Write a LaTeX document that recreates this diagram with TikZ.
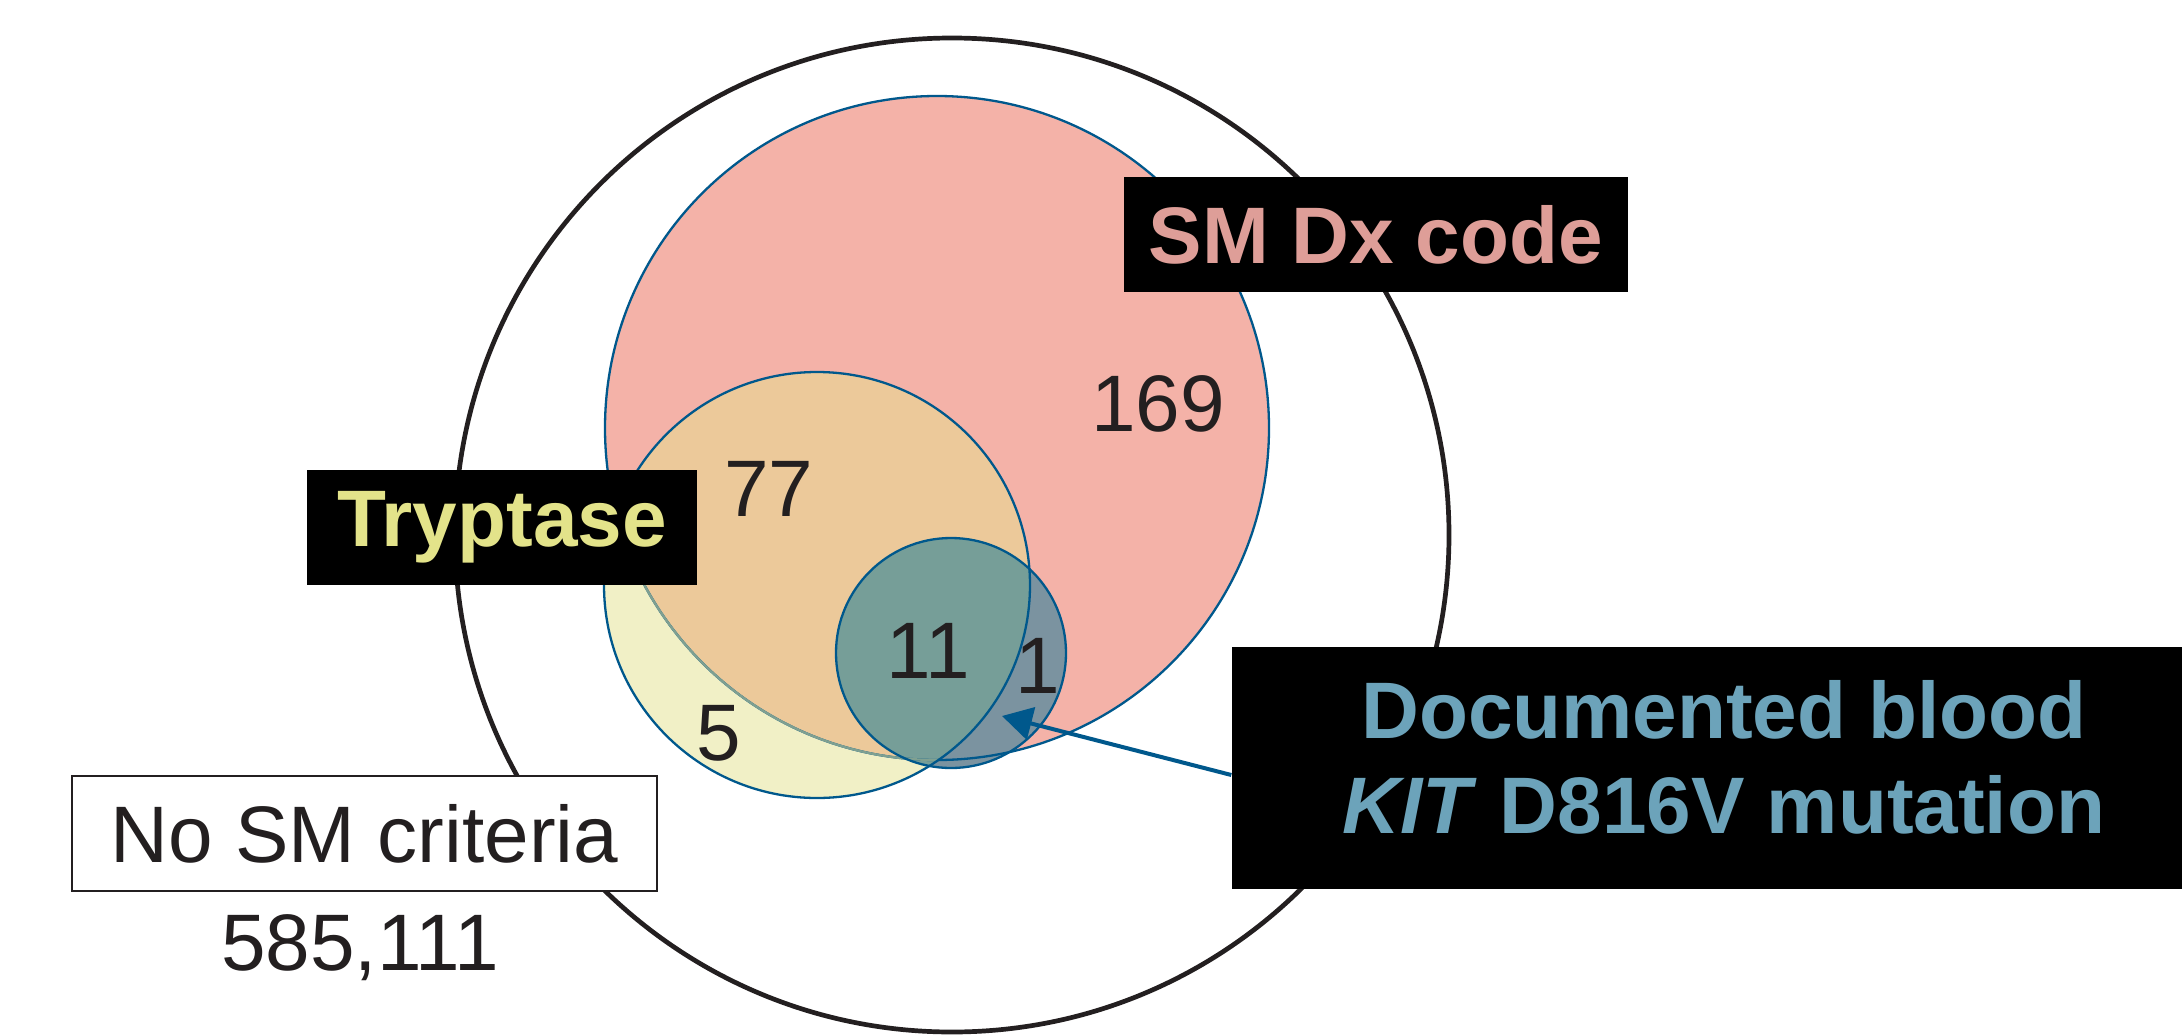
\documentclass[tikz,border=0pt]{standalone}
\usepackage{fontspec}
\setmainfont{Liberation Sans}
\usetikzlibrary{arrows.meta}

\begin{document}
\begin{tikzpicture}[x=0.1mm, y=-0.1mm]
% Colors
\definecolor{outlineColor}{RGB}{35,31,32}
\definecolor{rimColor}{RGB}{0,88,140}
\definecolor{innerRimColor}{RGB}{127,160,145}
\definecolor{dxColor}{RGB}{244,178,168}
\definecolor{tryptaseColor}{RGB}{241,240,198}
\definecolor{bothColor}{RGB}{236,201,154}
\definecolor{kitColor}{RGB}{123,147,160}
\definecolor{kitBothColor}{RGB}{118,158,152}
\definecolor{dxTextColor}{RGB}{222,158,152}
\definecolor{tryptaseTextColor}{RGB}{227,227,138}
\definecolor{kitTextColor}{RGB}{108,163,186}
\tikzset{
	count/.style={text=outlineColor, font=\fontsize{22.8}{27}\selectfont},
	labeltext/.style={font=\fontsize{22.8}{27}\selectfont\bfseries},
	labelbox/.style={labeltext, fill=black, inner sep=0pt, minimum height=11.5mm},
	rim/.style={draw=rimColor, line width=0.23mm},
}
\path[use as bounding box] (0,0) rectangle (2182,1035);
% Centres of the sets
\coordinate (all) at (952,535);
\coordinate (dx) at (937,428);
\coordinate (tryptase) at (817,585);
\coordinate (kit) at (951,653);
% Outer set
\draw[outlineColor, line width=0.47mm] (all) circle[radius=497];
% Fills
\fill[dxColor] (dx) circle[radius=332];
\begin{scope}
	\clip (tryptase) circle[radius=213];
	\fill[tryptaseColor] (tryptase) circle[radius=213];
	\fill[bothColor] (dx) circle[radius=332];
\end{scope}
\fill[kitColor] (kit) circle[radius=115];
\begin{scope}
	\clip (kit) circle[radius=115];
	\fill[kitBothColor] (tryptase) circle[radius=213];
\end{scope}
% Outlines
\draw[rim] (dx) circle[radius=332];
\begin{scope}
	\clip (tryptase) circle[radius=213];
	\draw[innerRimColor, line width=0.23mm] (dx) circle[radius=332];
\end{scope}
\draw[rim] (tryptase) circle[radius=213];
\draw[rim] (kit) circle[radius=115];
% Counts
\node[count] (n169) at (1158,404) {169};
\node[count] (n77) at (769,489) {77};
\node[count] (n11) at (928,651) {11};
\node[count] (n1) at (1038,666) {1};
\node[count] (n5) at (719,733) {5};
% Labels
\node[labelbox, minimum width=50.4mm, text=dxTextColor] (dxlabel) at (1376,234.5) {SM Dx code};
\node[labelbox, minimum width=39mm, text=tryptaseTextColor] (tryptaselabel) at (502,527.5) {Tryptase};
\node[fill=black, inner sep=0pt, minimum width=98.4mm, minimum height=24.2mm] (kitbox) at (1724,768) {};
\node[labeltext, text=kitTextColor, anchor=base] (kitline1) at (1724,738) {Documented blood};
\node[labeltext, text=kitTextColor, anchor=base] (kitline2) at (1724,833) {\textit{KIT} D816V mutation};
\node[count, draw=outlineColor, line width=0.25mm, fill=white, inner sep=0pt, minimum width=58.5mm, minimum height=11.5mm] (nolabel) at (364.5,833.5) {No SM criteria};
\node[count] (nocount) at (360,948) {585,111};
% Pointer to the KIT set
\coordinate (kittip) at (1002,716);
\draw[rimColor, line width=0.4mm, -{Triangle[length=3mm, width=3.3mm]}] ([yshift=-0.7mm]kitbox.west) -- (kittip);
\end{tikzpicture}
\end{document}
